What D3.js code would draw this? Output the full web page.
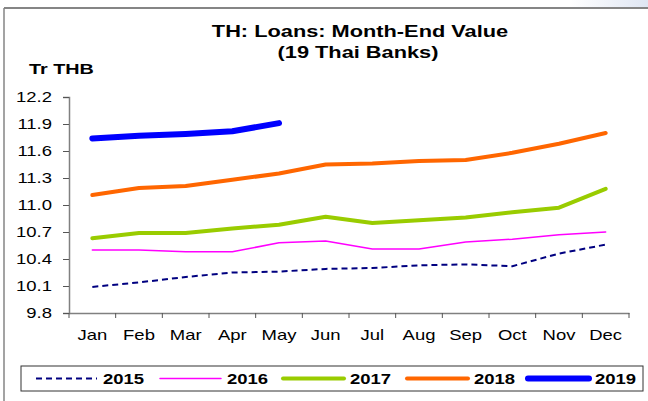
<!DOCTYPE html>
<html><head><meta charset="utf-8">
<script src="https://cdn.jsdelivr.net/npm/d3@7"></script>
<style>body{margin:0;background:#fff}svg{display:block}text{font-family:Arial,"Liberation Sans",sans-serif}</style>
</head><body><svg id="c" width="648" height="401"></svg>
<script>
const months = ["Jan","Feb","Mar","Apr","May","Jun","Jul","Aug","Sep","Oct","Nov","Dec"];
const yTicks = [9.8,10.1,10.4,10.7,11.0,11.3,11.6,11.9,12.2];
const years = ["2015","2016","2017","2018","2019"];
const v2015 = [10.09,10.14,10.20,10.25,10.26,10.29,10.30,10.33,10.34,10.32,10.46,10.56];
const v2016 = [10.50,10.50,10.48,10.48,10.58,10.60,10.51,10.51,10.59,10.62,10.67,10.70];
const v2017 = [10.63,10.69,10.69,10.74,10.78,10.87,10.80,10.83,10.86,10.92,10.97,11.18];
const v2018 = [11.11,11.19,11.21,11.28,11.35,11.45,11.46,11.49,11.50,11.58,11.68,11.80];
const v2019 = [11.74,11.77,11.79,11.82,11.91];

const series = [
  {name:"2015", values:v2015, color:"#000080", width:2, dash:"6,4"},
  {name:"2016", values:v2016, color:"#FF00FF", width:1.5, dash:null},
  {name:"2017", values:v2017, color:"#99CC00", width:4, dash:null},
  {name:"2018", values:v2018, color:"#FF6600", width:4, dash:null},
  {name:"2019", values:v2019, color:"#0000FF", width:6, dash:null}
];

const SX = 1.32;
const svg = d3.select("#c");
const defs = svg.append("defs");
const grad = defs.append("linearGradient").attr("id","g").attr("x1","0").attr("x2","1");
grad.append("stop").attr("offset","0").attr("stop-color","#fff");
grad.append("stop").attr("offset","1").attr("stop-color","#dfe6f3");
svg.append("rect").attr("x",570).attr("y",0).attr("width",78).attr("height",8).attr("fill","url(#g)");

// frame
svg.append("line").attr("x1",4).attr("x2",648).attr("y1",8).attr("y2",8).attr("stroke","#858585").attr("stroke-width",2);
svg.append("line").attr("x1",4).attr("x2",4).attr("y1",8).attr("y2",401).attr("stroke","#858585").attr("stroke-width",1.5);

function stext(x, y, str, opts) {
  const g = svg.append("g").attr("transform", `translate(${x},${y}) scale(${SX},1)`);
  const t = g.append("text").text(str)
    .attr("font-size", opts.size).attr("font-weight", opts.bold ? "bold" : "normal")
    .attr("text-anchor", opts.anchor || "start").attr("fill", "#000");
  return t;
}

const x = d3.scaleBand().domain(months).range([69, 629]);
const y = d3.scaleLinear().domain([9.8, 12.2]).range([313, 97]);

// title
stext(360, 37, "TH: Loans: Month-End Value", {size:16.5, bold:true, anchor:"middle"});
stext(358, 58, "(19 Thai Banks)", {size:16.5, bold:true, anchor:"middle"});
stext(29, 74, "Tr THB", {size:15, bold:true});

// y axis
const yAxis = d3.axisLeft(y).tickValues(yTicks).tickSize(6).tickFormat(d3.format(".1f"));
const gy = svg.append("g").attr("transform","translate(69,0)").call(yAxis);
gy.select(".domain").attr("stroke","#808080").attr("stroke-width",1.5);
gy.selectAll(".tick line").attr("stroke","#555");
gy.selectAll(".tick text").remove();
yTicks.forEach(v => stext(52, y(v) + 5, d3.format(".1f")(v), {size:14, anchor:"end"}));

// x axis with ticks at band boundaries
const xAxis = d3.axisBottom(x).tickSize(0).tickFormat("");
const gx = svg.append("g").attr("transform","translate(0,313)").call(xAxis);
gx.select(".domain").attr("stroke","#808080").attr("stroke-width",1.5);
const bounds = months.map(m => x(m)).concat([x.range()[1]]);
gx.selectAll(".bt").data(bounds).enter().append("line")
  .attr("x1", d => d).attr("x2", d => d).attr("y1", 0).attr("y2", 5).attr("stroke","#555");
months.forEach(m => stext(x(m) + x.bandwidth()/2, 340, m, {size:14, anchor:"middle"}));

// lines
const line = d3.line().x((d,i) => x(months[i]) + x.bandwidth()/2).y(d => y(d));
series.forEach(s => {
  svg.append("path").datum(s.values).attr("d", line)
    .attr("fill","none").attr("stroke", s.color).attr("stroke-width", s.width)
    .attr("stroke-linejoin","round").attr("stroke-linecap", s.dash ? "butt" : "round")
    .attr("stroke-dasharray", s.dash);
});

// legend
svg.append("rect").attr("x",21).attr("y",366).attr("width",622).attr("height",25)
  .attr("fill","#fff").attr("stroke","#333").attr("stroke-width",1);
const starts = [36, 160, 283, 407, 528];
series.forEach((s,i) => {
  const x0 = starts[i];
  svg.append("line").attr("x1", x0).attr("x2", x0 + 61).attr("y1", 378.5).attr("y2", 378.5)
    .attr("stroke", s.color).attr("stroke-width", s.width)
    .attr("stroke-dasharray", s.dash).attr("stroke-linecap", s.dash ? "butt" : "round");
  stext(x0 + 67, 384, s.name, {size:14, bold:true});
});
</script></body></html>
